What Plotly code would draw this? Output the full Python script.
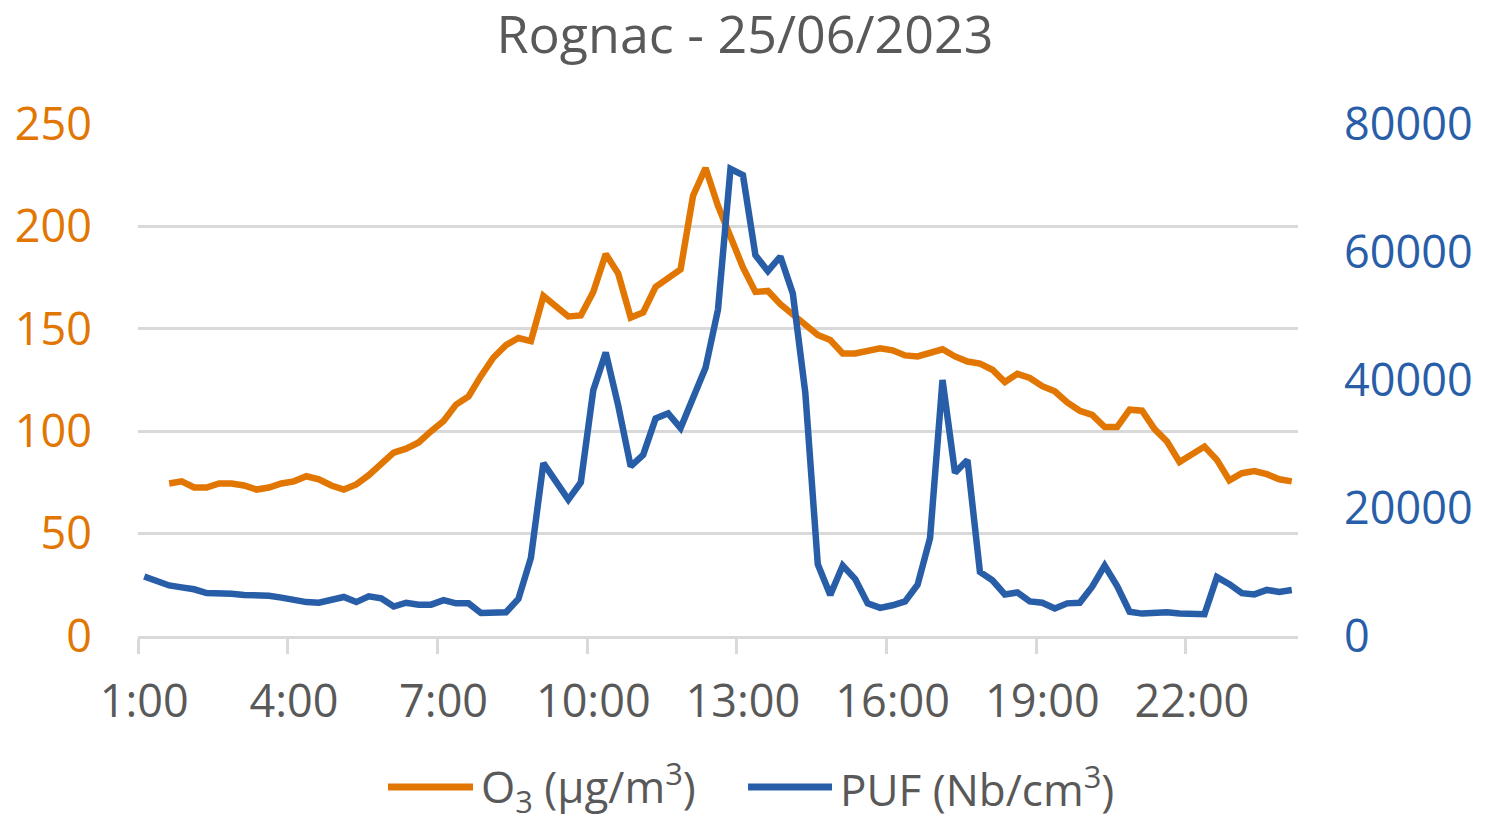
import plotly.graph_objects as go

# 15-minute steps from 1:00 to 24:00
n_steps = 93
hours = [1 + 0.25 * i for i in range(n_steps)]

o3 = [None, None, 74.5, 75.5, 72.5, 72.5, 74.5, 74.5, 73.5, 71.5,
      72.5, 74.5, 75.5, 78, 76.5, 73.5, 71.5, 74, 78.5, 84,
      89.5, 91.5, 94.5, 100, 105, 113, 117, 127, 136, 142,
      145.5, 144, 166, 161, 156, 156.5, 168, 186.5, 177, 155.5,
      158, 170.5, 175, 179, 215, 228.5, 210, 194, 180, 168,
      168.5, 162, 157, 152, 147, 144.5, 138, 138, 139, 140.5,
      139.5, 137, 136.5, 138.5, 140, 136.5, 134, 133, 130, 124,
      128, 126, 122, 119.5, 114, 110, 108, 102, 102, 110.5,
      110, 101, 95, 85, 89, 92.5, 86, 76, 79.5, 80.5,
      79, 76.5, 75.5]

puf = [9300, 8600, 7900, 7600, 7300, 6700, 6700, 6600, 6400, 6400,
       6300, 6000, 5600, 5300, 5200, 5600, 6100, 5300, 6200, 5900,
       4600, 5200, 4900, 4900, 5600, 5100, 5100, 3600, 3600, 3700,
       5800, 12200, 27000, 24000, 21300, 24000, 38400, 44300, 36000, 26500,
       28300, 34000, 34800, 32500, 37300, 41900, 51000, 73000, 72000, 59500,
       57000, 59300, 53500, 38000, 11200, 6400, 11000, 8900, 5100, 4400,
       4800, 5400, 8000, 15300, 40000, 25500, 27500, 10000, 8700, 6500,
       6800, 5400, 5200, 4300, 5100, 5200, 7700, 11000, 7800, 3800,
       3500, 3700, 3700, 3500, 3400, 3400, 9200, 8100, 6700, 6500,
       7200, 6900, 7200]

tick_hours = [1, 4, 7, 10, 13, 16, 19, 22]
tick_labels = ["1:00", "4:00", "7:00", "10:00", "13:00", "16:00", "19:00", "22:00"]

ORANGE = "#E27602"
BLUE = "#285DA8"
GREY = "#595959"
GRID = "#D9D9D9"
FONT = "Open Sans"

# the page body has an 8px margin, so the figure is sized to fit inside it
W, H = 1469, 809

fig = go.Figure()
fig.add_trace(go.Scatter(x=hours, y=o3, mode="lines", name="O3",
                         line=dict(color=ORANGE, width=6.5), yaxis="y"))
fig.add_trace(go.Scatter(x=hours, y=puf, mode="lines", name="PUF",
                         line=dict(color=BLUE, width=6.5), yaxis="y2"))

# hand-drawn legend (long line samples like the original)
legend_y = -0.295
for x0, x1, color, label in [(0.2155, 0.2888, ORANGE, "O<sub>3</sub> (µg/m<sup>3</sup>)"),
                             (0.5259, 0.5983, BLUE, "PUF (Nb/cm<sup>3</sup>)")]:
    fig.add_shape(type="line", xref="paper", yref="paper", x0=x0, x1=x1,
                  y0=legend_y, y1=legend_y, line=dict(color=color, width=7))
    fig.add_annotation(xref="paper", yref="paper", x=x1 + 0.005, y=legend_y,
                       xanchor="left", yanchor="middle", text=label, showarrow=False,
                       font=dict(size=44, color=GREY, family=FONT))

fig.update_layout(
    width=W, height=H,
    paper_bgcolor="white", plot_bgcolor="white",
    margin=dict(l=130, r=179, t=116, b=181, autoexpand=False),
    showlegend=False,
    font=dict(family=FONT, color=GREY),
    title=dict(text="Rognac - 25/06/2023", x=(745 - 8) / W, xanchor="center",
               y=1 - 27 / H, yanchor="middle",
               font=dict(size=52, color=GREY, family=FONT)),
    xaxis=dict(range=[0.875, 24.125], tickmode="array", tickvals=tick_hours,
               ticktext=tick_labels, ticks="", showgrid=False, zeroline=False,
               automargin=False,
               showline=True, linecolor=GRID, linewidth=2.5,
               tickfont=dict(size=45, color=GREY), ticklabelstandoff=24,
               minor=dict(tickmode="array",
                          tickvals=[h - 0.125 for h in tick_hours],
                          ticks="outside", ticklen=15, tickwidth=2.5,
                          tickcolor=GRID, showgrid=False)),
    yaxis=dict(range=[0, 250], tickvals=[0, 50, 100, 150, 200, 250],
               showgrid=True, gridcolor=GRID, gridwidth=2.5, zeroline=False,
               automargin=False,
               showline=False, ticks="", tickfont=dict(size=45, color=ORANGE),
               ticklabelstandoff=45),
    yaxis2=dict(range=[0, 80000], tickvals=[0, 20000, 40000, 60000, 80000],
                overlaying="y", side="right", showgrid=False, zeroline=False,
                automargin=False,
                showline=False, ticks="", tickfont=dict(size=45, color=BLUE),
                ticklabelstandoff=45, tickformat="d"),
)

fig.write_html("out.html")
